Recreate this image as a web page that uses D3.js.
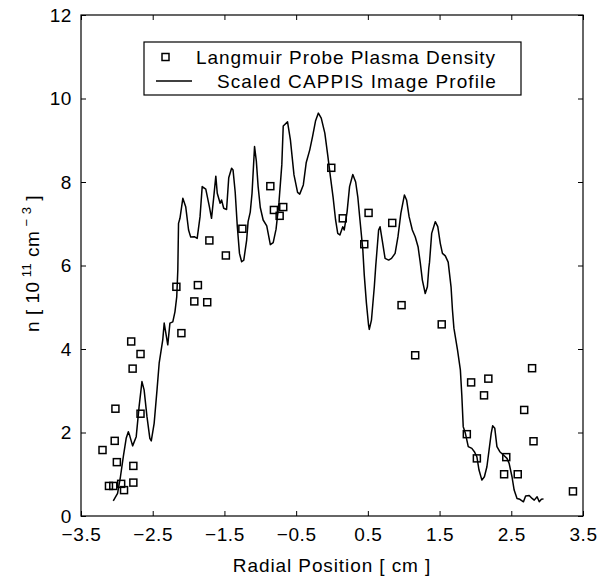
<!DOCTYPE html>
<html>
<head>
<meta charset="utf-8">
<script src="https://cdn.jsdelivr.net/npm/d3@7"></script>
<style>
  body { margin: 0; background: #fff; }
  text { font-family: "Liberation Sans", Arial, Helvetica, sans-serif; fill: #000; }
</style>
</head>
<body>
<div id="chart"></div>
<script>
// Langmuir probe measurements (radial position in cm, density in 1e11 cm^-3).
const probeX = [-3.20, -3.02, -3.03, -3.00, -3.11, -3.05, -2.94, -2.90, -2.77, -2.77,
  -2.80, -2.67, -2.78, -2.67, -2.17, -1.87, -1.92, -1.74, -2.10, -1.71,
  -1.48, -1.25, -0.86, -0.81, -0.73, -0.68, -0.01, 0.15, 0.51, 0.45,
  0.84, 0.97, 1.53, 1.16, 1.94, 2.18, 2.12, 2.79, 2.68, 2.81,
  1.88, 2.02, 2.43, 2.40, 2.59, 3.36];
const probeDensity = [1.58, 2.57, 1.80, 1.29, 0.72, 0.72, 0.77, 0.62, 0.80, 1.20,
  4.18, 3.88, 3.53, 2.45, 5.49, 5.53, 5.14, 5.12, 4.38, 6.60,
  6.24, 6.88, 7.90, 7.33, 7.19, 7.40, 8.34, 7.13, 7.26, 6.51,
  7.02, 5.05, 4.59, 3.85, 3.20, 3.29, 2.89, 3.54, 2.54, 1.79,
  1.96, 1.38, 1.41, 1.00, 1.00, 0.59];

// Scaled CAPPIS image profile.
const profileX = [-3.05, -2.99, -2.95, -2.91, -2.87, -2.84, -2.82, -2.78, -2.73, -2.69,
  -2.65, -2.62, -2.58, -2.54, -2.52, -2.48, -2.44, -2.41, -2.36, -2.34,
  -2.29, -2.26, -2.22, -2.19, -2.165, -2.15, -2.14, -2.12, -2.08, -2.04,
  -2.00, -1.97, -1.92, -1.88, -1.84, -1.81, -1.76, -1.71, -1.68, -1.65,
  -1.62, -1.60, -1.56, -1.54, -1.51, -1.47, -1.44, -1.40, -1.38, -1.35,
  -1.32, -1.29, -1.26, -1.23, -1.19, -1.17, -1.14, -1.115, -1.08, -1.055,
  -1.03, -1.00, -0.96, -0.91, -0.86, -0.82, -0.78, -0.74, -0.70, -0.68,
  -0.62, -0.58, -0.53, -0.48, -0.45, -0.40, -0.36, -0.31, -0.27, -0.23,
  -0.19, -0.15, -0.10, -0.06, -0.02, 0.015, 0.05, 0.08, 0.11, 0.15,
  0.17, 0.21, 0.245, 0.29, 0.33, 0.36, 0.39, 0.43, 0.45, 0.48,
  0.51, 0.52, 0.55, 0.59, 0.61, 0.65, 0.67, 0.70, 0.74, 0.79,
  0.83, 0.88, 0.92, 0.96, 1.01, 1.04, 1.075, 1.12, 1.16, 1.20,
  1.23, 1.26, 1.30, 1.33, 1.35, 1.36, 1.39, 1.44, 1.475, 1.51,
  1.54, 1.58, 1.62, 1.66, 1.68, 1.70, 1.75, 1.79, 1.81, 1.83,
  1.86, 1.90, 1.95, 1.985, 2.02, 2.05, 2.09, 2.125, 2.16, 2.19,
  2.22, 2.24, 2.27, 2.30, 2.34, 2.39, 2.44, 2.47, 2.51, 2.54,
  2.58, 2.62, 2.67, 2.70, 2.75, 2.79, 2.82, 2.86, 2.89, 2.92,
  2.95];
const profileDensity = [0.36, 0.54, 0.94, 1.42, 1.86, 2.02, 1.92, 1.68, 1.90, 2.62,
  3.22, 3.02, 2.38, 1.86, 1.80, 2.22, 3.02, 3.66, 4.22, 4.62,
  4.10, 4.62, 4.65, 4.89, 5.25, 5.89, 7.01, 7.13, 7.61, 7.41,
  6.85, 6.68, 6.69, 6.65, 7.17, 7.89, 7.83, 7.41, 7.13, 7.62,
  8.14, 7.73, 7.49, 7.57, 7.37, 7.34, 8.10, 8.33, 8.29, 7.76,
  6.93, 6.29, 6.09, 6.13, 6.61, 7.05, 7.28, 7.73, 8.85, 8.50,
  7.89, 7.39, 7.09, 6.95, 6.50, 6.55, 6.87, 7.50, 8.41, 9.34,
  9.44, 9.01, 8.17, 7.75, 7.71, 7.93, 8.46, 8.77, 9.10, 9.46,
  9.65, 9.53, 9.17, 8.65, 8.10, 7.64, 7.09, 6.77, 6.73, 6.93,
  6.85, 7.28, 7.89, 8.18, 8.00, 7.64, 7.09, 6.37, 5.77, 5.10,
  4.57, 4.47, 4.69, 5.49, 5.99, 6.85, 6.93, 6.61, 6.17, 6.13,
  6.17, 6.29, 6.69, 7.25, 7.69, 7.57, 7.17, 6.85, 6.69, 6.45,
  6.08, 5.65, 5.33, 5.49, 5.94, 6.08, 6.77, 7.05, 6.93, 6.53,
  6.29, 6.23, 6.08, 5.49, 4.93, 4.50, 3.98, 3.50, 2.90, 2.14,
  1.98, 1.66, 1.62, 1.54, 1.42, 1.10, 0.86, 0.94, 1.18, 1.58,
  1.98, 2.16, 2.10, 1.66, 1.54, 1.46, 1.38, 1.26, 0.94, 0.62,
  0.42, 0.40, 0.34, 0.48, 0.49, 0.42, 0.38, 0.46, 0.34, 0.40,
  0.41];

// Axis ticks and labels.
const xTicks = [-3.5, -2.5, -1.5, -0.5, 0.5, 1.5, 2.5, 3.5];
const yTicks = [0, 2, 4, 6, 8, 10, 12];
const legendLabels = ["Langmuir Probe Plasma Density", "Scaled CAPPIS Image Profile"];

// Layout.
const width = 611;
const height = 580;
const padding = { top: 15, right: 28, bottom: 64, left: 81 };
const innerWidth = width - padding.left - padding.right;
const innerHeight = height - padding.top - padding.bottom;
const tickLen = 5;

let svg = null;
let xScale = null;
let yScale = null;

function initializeSvg() {
  svg = d3.select("#chart")
    .append("svg")
    .attr("width", width)
    .attr("height", height)
    .append("g")
    .attr("transform", `translate(${padding.left},${padding.top})`);
}

function initializeScales() {
  xScale = d3.scaleLinear().domain([-3.5, 3.5]).range([0, innerWidth]);
  yScale = d3.scaleLinear().domain([0, 12]).range([innerHeight, 0]);
}

function styleAxis(g) {
  g.select(".domain").remove();
  g.selectAll("line").attr("stroke", "#000").attr("stroke-width", 1);
  g.selectAll("text").attr("font-size", 19).attr("fill", "#000")
    .attr("letter-spacing", 0.6)
    .attr("font-family", "Liberation Sans, Arial, sans-serif");
}

// Ticks only, for the top and right edges of the box.
function bareTicks(g) {
  g.select(".domain").remove();
  g.selectAll("text").remove();
  g.selectAll("line").attr("stroke", "#000").attr("stroke-width", 1);
}

function initializeAxis() {
  // Bottom and left carry labels; all ticks point inward, like a boxed plot.
  svg.append("g")
    .attr("transform", `translate(0,${innerHeight})`)
    .call(d3.axisBottom(xScale).tickValues(xTicks).tickFormat(d3.format(".1f"))
      .tickSizeInner(-tickLen).tickSizeOuter(0).tickPadding(12))
    .call(styleAxis);

  svg.append("g")
    .call(d3.axisLeft(yScale).tickValues(yTicks).tickFormat(d3.format("d"))
      .tickSizeInner(-tickLen).tickSizeOuter(0).tickPadding(9))
    .call(styleAxis);

  svg.append("g")
    .call(d3.axisTop(xScale).tickValues(xTicks)
      .tickSizeInner(-tickLen).tickSizeOuter(0))
    .call(bareTicks);

  svg.append("g")
    .attr("transform", `translate(${innerWidth},0)`)
    .call(d3.axisRight(yScale).tickValues(yTicks)
      .tickSizeInner(-tickLen).tickSizeOuter(0))
    .call(bareTicks);

  // Frame.
  svg.append("rect")
    .attr("width", innerWidth)
    .attr("height", innerHeight)
    .attr("fill", "none")
    .attr("stroke", "#000")
    .attr("stroke-width", 1.2);

  // X label.
  svg.append("text")
    .attr("text-anchor", "middle")
    .attr("font-size", 19)
    .attr("letter-spacing", 0.9)
    .attr("x", innerWidth / 2)
    .attr("y", innerHeight + 56)
    .text("Radial Position [ cm ]");

  // Y label with superscripts.
  const yLabel = svg.append("text")
    .attr("text-anchor", "middle")
    .attr("font-size", 19)
    .attr("letter-spacing", 0.5)
    .attr("transform", `translate(${-42},${innerHeight / 2 - 2})rotate(-90)`);
  yLabel.append("tspan").text("n [ 10");
  yLabel.append("tspan").attr("dy", -8).attr("font-size", 13).text(" 11");
  yLabel.append("tspan").attr("dy", 8).text(" cm");
  yLabel.append("tspan").attr("dy", -8).attr("font-size", 13).text(" \u2212 3");
  yLabel.append("tspan").attr("dy", 8).text(" ]");
}

function initializeMarks() {
  const line = d3.line()
    .x((d) => xScale(d[0]))
    .y((d) => yScale(d[1]));

  svg.append("path")
    .datum(d3.zip(profileX, profileDensity))
    .attr("d", line)
    .attr("fill", "none")
    .attr("stroke", "#000")
    .attr("stroke-width", 1.5)
    .attr("stroke-linejoin", "round");

  const s = 7;
  svg.selectAll("rect.probe")
    .data(d3.zip(probeX, probeDensity))
    .enter()
    .append("rect")
    .attr("class", "probe")
    .attr("x", (d) => xScale(d[0]) - s / 2)
    .attr("y", (d) => yScale(d[1]) - s / 2)
    .attr("width", s)
    .attr("height", s)
    .attr("fill", "none")
    .attr("stroke", "#000")
    .attr("stroke-width", 1.5);
}

function initializeLegend() {
  // Legend box sits in the upper-middle part of the plot.
  const lg = svg.append("g").attr("transform", `translate(${144 - padding.left},${42 - padding.top})`);
  lg.append("rect")
    .attr("width", 377)
    .attr("height", 53)
    .attr("fill", "#fff")
    .attr("stroke", "#000")
    .attr("stroke-width", 1.2);

  lg.append("rect")
    .attr("x", 18).attr("y", 11.5)
    .attr("width", 7).attr("height", 7)
    .attr("fill", "none").attr("stroke", "#000").attr("stroke-width", 1.5);
  lg.append("line")
    .attr("x1", 12).attr("x2", 48)
    .attr("y1", 39).attr("y2", 39)
    .attr("stroke", "#000").attr("stroke-width", 1.5);

  lg.append("text").attr("x", 52).attr("y", 22).attr("font-size", 19)
    .attr("letter-spacing", 0.95).text(legendLabels[0]);
  lg.append("text").attr("x", 73).attr("y", 46).attr("font-size", 19)
    .attr("letter-spacing", 1.1).text(legendLabels[1]);
}

initializeSvg();
initializeScales();
initializeMarks();
initializeAxis();
initializeLegend();
</script>
</body>
</html>
